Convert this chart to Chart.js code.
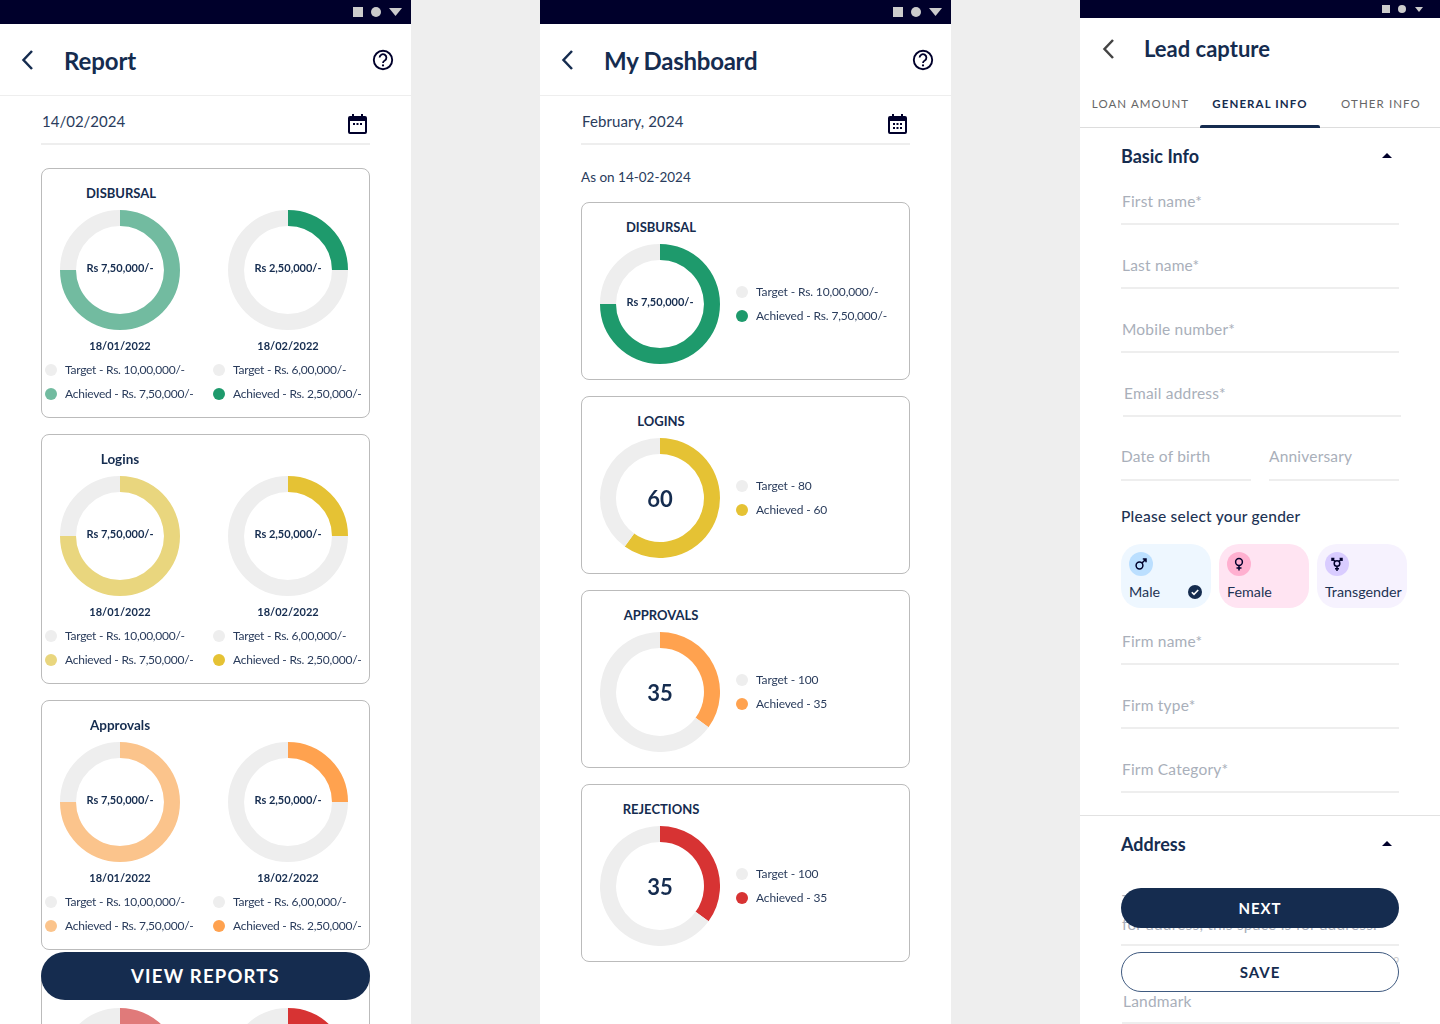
<!DOCTYPE html>
<html>
<head>
<meta charset="utf-8">
<title>Report, dashboard and lead capture screens</title>
<script src="https://cdn.jsdelivr.net/npm/chart.js@4"></script>
<style>
  html, body { margin: 0; padding: 0; width: 1440px; height: 1024px; overflow: hidden; background: #eeeeee; }
  body { position: relative; font-family: Lato, sans-serif; color: #152c4f; }
  .box { position: absolute; box-sizing: border-box; }
  .txt { position: absolute; white-space: nowrap; line-height: 20px; height: 20px; }
  canvas { position: absolute; }
  svg { position: absolute; overflow: visible; }
</style>
</head>
<body>
<script>
// Report screen
const reportTitles = ['DISBURSAL', 'Logins', 'Approvals'];
const reportDates = ['18/01/2022', '18/02/2022'];
const reportCenterLabels = ['Rs 7,50,000/-', 'Rs 2,50,000/-'];
const reportTargets = ['Target - Rs. 10,00,000/-', 'Target - Rs. 6,00,000/-'];
const reportAchieved = ['Achieved - Rs. 7,50,000/-', 'Achieved - Rs. 2,50,000/-'];
const reportValues = [750000, 250000];
const reportRemainder = [250000, 750000];
const reportLightColors = ['#72bba0', '#e9d67e', '#fbc48c', '#e07a7a'];
const reportDarkColors = ['#1e9a6c', '#e5c234', '#ffa24f', '#d73333'];

// Dashboard screen
const dashTitles = ['DISBURSAL', 'LOGINS', 'APPROVALS', 'REJECTIONS'];
const dashCenterLabels = ['Rs 7,50,000/-', '60', '35', '35'];
const dashTargets = ['Target - Rs. 10,00,000/-', 'Target - 80', 'Target - 100', 'Target - 100'];
const dashAchieved = ['Achieved - Rs. 7,50,000/-', 'Achieved - 60', 'Achieved - 35', 'Achieved - 35'];
const dashValues = [75, 60, 35, 35];
const dashRemainder = [25, 40, 65, 65];

// Lead capture screen
const tabs = ['LOAN AMOUNT', 'GENERAL INFO', 'OTHER INFO'];
const fieldLabels = ['First name*', 'Last name*', 'Mobile number*', 'Email address*'];
const firmLabels = ['Firm name*', 'Firm type*', 'Firm Category*'];
const genders = ['Male', 'Female', 'Transgender'];

const NAVY = '#152c4f';
const TRACK = '#eeeeee';
const GREY_TEXT = '#a9afba';
const BODY_TEXT = '#2a3c5c';

function box(x, y, w, h, css) {
  const el = document.createElement('div');
  el.className = 'box';
  el.style.cssText = `left:${x}px;top:${y}px;width:${w}px;height:${h}px;${css || ''}`;
  document.body.appendChild(el);
  return el;
}

// y is the vertical middle of the text
function text(str, x, y, size, weight, color, align, spacing) {
  const el = document.createElement('div');
  el.className = 'txt';
  el.textContent = str;
  const shift = align === 'center' ? 'translateX(-50%)' : 'none';
  el.style.cssText = `left:${x}px;top:${y - 10}px;font-size:${size}px;font-weight:${weight};color:${color};letter-spacing:${spacing || 0}px;transform:${shift};`;
  document.body.appendChild(el);
  return el;
}

function svg(x, y, w, h, inner) {
  const holder = document.createElement('div');
  holder.innerHTML = `<svg xmlns="http://www.w3.org/2000/svg" style="left:${x}px;top:${y}px" width="${w}" height="${h}" viewBox="0 0 ${w} ${h}">${inner}</svg>`;
  document.body.appendChild(holder.firstChild);
}

function doughnut(cx, cy, value, remainder, color) {
  const canvas = document.createElement('canvas');
  canvas.width = 120;
  canvas.height = 120;
  canvas.style.left = (cx - 60) + 'px';
  canvas.style.top = (cy - 60) + 'px';
  canvas.style.width = '120px';
  canvas.style.height = '120px';
  document.body.appendChild(canvas);
  new Chart(canvas.getContext('2d'), {
    type: 'doughnut',
    data: {
      labels: ['Achieved', 'Remaining'],
      datasets: [{
        data: [value, remainder],
        backgroundColor: [color, TRACK],
        borderWidth: 0
      }]
    },
    options: {
      responsive: false,
      animation: false,
      cutout: '73.3%',
      layout: { padding: 0 },
      plugins: { legend: { display: false }, tooltip: { enabled: false } }
    }
  });
}

function dot(cx, cy, color) {
  box(cx - 6, cy - 6, 12, 12, `border-radius:50%;background:${color};`);
}

function statusBar(x, w, h, sq, cir, tri) {
  box(x, 0, w, h, 'background:#00002b;');
  box(sq[0], sq[1], sq[2], sq[2], 'background:#cccccc;');
  box(cir[0] - cir[2], cir[1] - cir[2], cir[2] * 2, cir[2] * 2, 'background:#cccccc;border-radius:50%;');
  svg(tri[0], tri[1], tri[2], tri[3], `<path d="M0 0H${tri[2]}L${tri[2] / 2} ${tri[3]}Z" fill="#cccccc"/>`);
}

function backArrow(x, y, color) {
  svg(x, y, 12, 20, `<path d="M11 1L2.5 10l8.5 9" fill="none" stroke="${color}" stroke-width="2.5"/>`);
}

function helpIcon(cx, cy) {
  svg(cx - 11, cy - 11, 22, 22, `<circle cx="11" cy="11" r="9.2" fill="none" stroke="#00002b" stroke-width="1.9"/>
    <path d="M7.6 8.6a3.4 3.4 0 1 1 5.2 2.9c-1.2.7-1.8 1.3-1.8 2.5" fill="none" stroke="#00002b" stroke-width="1.8"/>
    <circle cx="11" cy="16.4" r="1.1" fill="#00002b"/>`);
}

function calendarIcon(x, y, rows) {
  let cells = '<rect x="5" y="9" width="2" height="2"/><rect x="8.5" y="9" width="2" height="2"/><rect x="12" y="9" width="2" height="2"/>';
  if (rows > 1) cells += '<rect x="5" y="13" width="2" height="2"/><rect x="8.5" y="13" width="2" height="2"/><rect x="12" y="13" width="2" height="2"/>';
  svg(x, y, 19, 20, `<g fill="#00002b"><rect x="4" y="0" width="2" height="3"/><rect x="13" y="0" width="2" height="3"/>${cells}</g>
    <rect x="1" y="3" width="17" height="16" rx="1" fill="none" stroke="#00002b" stroke-width="2"/><rect x="1" y="3" width="17" height="4" fill="#00002b"/>`);
}

function caret(x, y) {
  svg(x, y, 10, 5, '<path d="M0 5H10L5 0Z" fill="#00002b"/>');
}

function field(label, x, y, lineX, lineY, lineW) {
  text(label, x, y, 15.5, 400, GREY_TEXT, 'left', 0.2);
  box(lineX, lineY, lineW, 2, `background:${TRACK};`);
}

// white screens
box(0, 0, 411, 1024, 'background:#fff;');
box(540, 0, 411, 1024, 'background:#fff;');
box(1080, 0, 360, 1024, 'background:#fff;');

// ---- Report ----
statusBar(0, 411, 24, [353, 7, 10], [376, 12, 5], [389, 8, 13, 8]);
backArrow(21, 50, NAVY);
text('Report', 64, 60.5, 24, 700, NAVY, 'left', -0.1);
helpIcon(383, 60);
box(0, 95, 411, 1, `background:${TRACK};`);
text('14/02/2024', 42, 121, 15, 400, BODY_TEXT);
calendarIcon(348, 114, 1);
box(41, 143, 329, 2, `background:${TRACK};`);

reportTitles.forEach((title, i) => {
  const top = 168 + i * 266;
  box(41, top, 329, 250, 'border:1px solid #bbbbbb;border-radius:8px;background:#fff;');
  text(title, i === 0 ? 121 : 120, top + 25, i === 0 ? 13 : 13.5, 700, NAVY, 'center');
  [0, 1].forEach(j => {
    const cx = 120 + j * 168;
    const color = j === 0 ? reportLightColors[i] : reportDarkColors[i];
    doughnut(cx, top + 102, reportValues[j], reportRemainder[j], color);
    text(reportCenterLabels[j], cx, top + 100, 11, 700, NAVY, 'center');
    text(reportDates[j], cx, top + 178, 11, 700, NAVY, 'center');
    dot(51 + j * 168, top + 202, TRACK);
    text(reportTargets[j], 65 + j * 168, top + 202, 12, 400, BODY_TEXT, 'left', -0.25);
    dot(51 + j * 168, top + 226, color);
    text(reportAchieved[j], 65 + j * 168, top + 226, 12, 400, BODY_TEXT, 'left', -0.25);
  });
});
// fourth report card, only its top edge and rings are in the window
box(41, 966, 329, 250, 'border:1px solid #bbbbbb;border-radius:8px;background:#fff;');
[0, 1].forEach(j => {
  doughnut(120 + j * 168, 1068, reportValues[j], reportRemainder[j], j === 0 ? reportLightColors[3] : reportDarkColors[3]);
});
box(41, 952, 329, 48, `background:${NAVY};border-radius:24px;`);
text('VIEW REPORTS', 205.5, 975.5, 18.5, 700, '#fff', 'center', 1.2);

// ---- Dashboard ----
statusBar(540, 411, 24, [893, 7, 10], [916, 12, 5], [929, 8, 13, 8]);
backArrow(561, 50, NAVY);
text('My Dashboard', 604, 60.5, 24, 700, NAVY, 'left', -0.25);
helpIcon(923, 60);
box(540, 95, 411, 1, `background:${TRACK};`);
text('February, 2024', 582, 121, 15, 400, BODY_TEXT, 'left', 0.1);
calendarIcon(888, 114, 2);
box(581, 143, 329, 2, `background:${TRACK};`);
text('As on 14-02-2024', 581, 177, 13.5, 400, BODY_TEXT);

dashTitles.forEach((title, i) => {
  const top = 202 + i * 194;
  box(581, top, 329, 178, 'border:1px solid #bbbbbb;border-radius:8px;background:#fff;');
  text(title, 661, top + 25, 13, 700, NAVY, 'center');
  doughnut(660, top + 102, dashValues[i], dashRemainder[i], reportDarkColors[i]);
  if (i === 0) {
    text(dashCenterLabels[i], 660, top + 100, 11, 700, NAVY, 'center');
  } else {
    text(dashCenterLabels[i], 660, top + 103, 22, 700, NAVY, 'center');
  }
  dot(742, top + 90, TRACK);
  text(dashTargets[i], 756, top + 90, 12, 400, BODY_TEXT, 'left', -0.15);
  dot(742, top + 114, reportDarkColors[i]);
  text(dashAchieved[i], 756, top + 114, 12, 400, BODY_TEXT, 'left', -0.15);
});

// ---- Lead capture ----
statusBar(1080, 360, 18, [1382, 5, 8], [1402, 9, 4], [1415, 7, 8, 5]);
backArrow(1102, 39, '#444444');
text('Lead capture', 1144, 49, 22, 700, NAVY);
text(tabs[0], 1140.5, 104, 11.5, 400, '#666666', 'center', 1.1);
text(tabs[1], 1260, 104, 11.5, 700, NAVY, 'center', 1.1);
text(tabs[2], 1381, 104, 11.5, 400, '#666666', 'center', 1.1);
box(1080, 127, 360, 1, 'background:#dddddd;');
box(1200, 125, 120, 3, `background:${NAVY};border-radius:2px 2px 0 0;`);
text('Basic Info', 1121, 155.5, 18, 700, NAVY);
caret(1382, 153);
field(fieldLabels[0], 1122, 201, 1121, 223, 278);
field(fieldLabels[1], 1122, 265, 1121, 287, 278);
field(fieldLabels[2], 1122, 329, 1121, 351, 278);
field(fieldLabels[3], 1124, 393, 1123, 415, 278);
field('Date of birth', 1121, 456, 1121, 479, 130);
field('Anniversary', 1269, 456, 1269, 479, 130);
text('Please select your gender', 1121, 516, 15.5, 500, '#1d3354', 'left', 0.25);

const genderX = [1121, 1219, 1317];
const genderBg = ['#eef7ff', '#ffe4f2', '#f6f2fe'];
const genderCircle = ['#bbdfff', '#ffb0d0', '#d9ccff'];
const genderIcons = [
  '<circle cx="-1.5" cy="1.5" r="3.4"/><path d="M1 -1L5 -5M1.8 -5H5V-1.8"/>',
  '<circle cx="0" cy="-2" r="3.4"/><path d="M0 1.4V6.5M-2.5 4H2.5"/>',
  '<circle cx="0" cy="-0.5" r="2.8"/><path d="M0 2.3V7M-2 4.8H2M-2 -2.6L-5 -5.4M2 -2.6L5 -5.4M-5 -3V-5.4H-2.6M5 -3V-5.4H2.6"/>'
];
genders.forEach((g, i) => {
  box(genderX[i], 544, 90, 64, `background:${genderBg[i]};border-radius:20px;`);
  box(genderX[i] + 8, 552, 24, 24, `background:${genderCircle[i]};border-radius:50%;`);
  svg(genderX[i] + 20, 564, 1, 1, `<g fill="none" stroke="#00002b" stroke-width="1.5">${genderIcons[i]}</g>`);
  text(g, genderX[i] + 8, 592, 14.3, 400, '#1d3354');
});
svg(1188, 585, 14, 14, `<circle cx="7" cy="7" r="7" fill="${NAVY}"/><path d="M3.8 7.2l2.2 2.2 4.2-4.4" fill="none" stroke="#fff" stroke-width="1.6"/>`);

field(firmLabels[0], 1122, 641, 1121, 663, 278);
field(firmLabels[1], 1122, 705, 1121, 727, 278);
field(firmLabels[2], 1122, 769, 1121, 791, 278);

box(1080, 815, 360, 1, 'background:#e2e2e2;');
text('Address', 1121, 843.5, 18, 700, NAVY);
caret(1382, 841);

// text that sits partly behind the two buttons
text('This space is for address', 1122, 900, 15.5, 400, GREY_TEXT, 'left', 0.2);
text('for address, this space is for address.', 1122, 924, 15.5, 400, GREY_TEXT, 'left', 0.2);
box(1121, 944, 278, 2, `background:${TRACK};`);
text('9', 1393, 961, 11, 400, '#cccccc');
text('Landmark', 1123, 1001, 15.5, 400, GREY_TEXT, 'left', 0.2);
box(1122, 1022, 278, 2, `background:${TRACK};`);
box(1121, 888, 278, 40, `background:${NAVY};border-radius:20px;`);
text('NEXT', 1260, 908, 15, 700, '#fff', 'center', 1);
box(1121, 952, 278, 40, `background:#fff;border:1px solid #3f5a80;border-radius:20px;`);
text('SAVE', 1260, 972, 15, 700, NAVY, 'center', 1);
</script>
</body>
</html>
